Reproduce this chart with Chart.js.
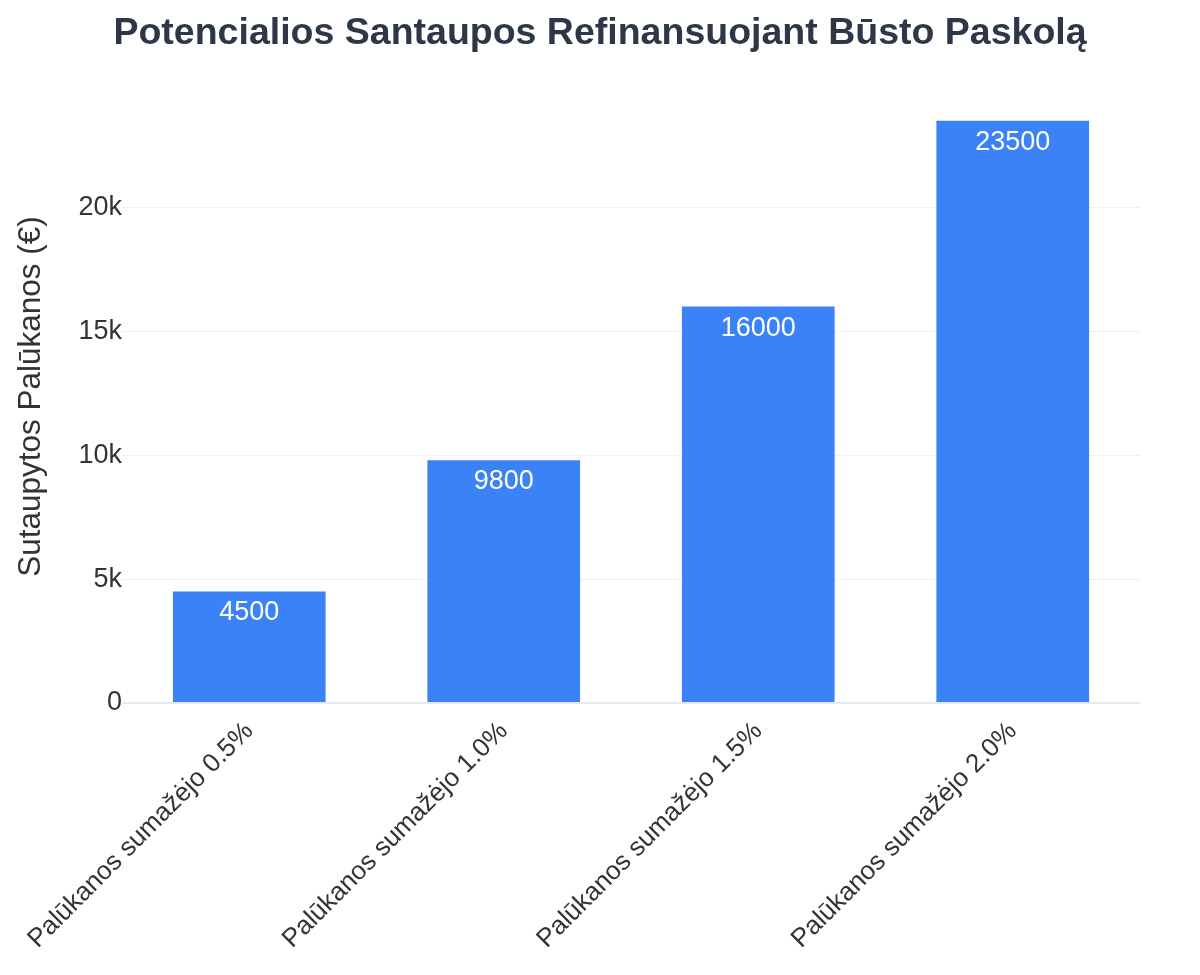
<!DOCTYPE html>
<html>
<head>
<meta charset="utf-8">
<script src="https://cdn.jsdelivr.net/npm/chart.js@4.4.1/dist/chart.umd.min.js"></script>
<style>
  html, body { margin: 0; padding: 0; background: #ffffff; }
  #wrap { width: 1200px; height: 975px; }
</style>
</head>
<body>
<div id="wrap"><canvas id="c" width="1200" height="975"></canvas></div>
<script>
const categories = [
  "Palūkanos sumažėjo 0.5%",
  "Palūkanos sumažėjo 1.0%",
  "Palūkanos sumažėjo 1.5%",
  "Palūkanos sumažėjo 2.0%"
];
const savings = [4500, 9800, 16000, 23500];
const yTickValues = [0, 5000, 10000, 15000, 20000];
const yTickLabels = ["0", "5k", "10k", "15k", "20k"];
const chartTitle = "Potencialios Santaupos Refinansuojant Būsto Paskolą";
const yAxisTitle = "Sutaupytos Palūkanos (€)";

const FONT = "'Liberation Sans', Arial, Helvetica, sans-serif";

const barLabels = {
  id: 'barLabels',
  afterDatasetsDraw(chart) {
    const ctx = chart.ctx;
    const meta = chart.getDatasetMeta(0);
    ctx.save();
    ctx.fillStyle = '#ffffff';
    ctx.font = '27px ' + FONT;
    ctx.textAlign = 'center';
    ctx.textBaseline = 'alphabetic';
    meta.data.forEach((bar, i) => {
      ctx.fillText(String(savings[i]), bar.x, bar.y + 29);
    });
    ctx.restore();
  }
};

new Chart(document.getElementById('c'), {
  type: 'bar',
  data: {
    labels: categories,
    datasets: [{
      data: savings,
      backgroundColor: '#3b82f6',
      borderWidth: 0,
      barPercentage: 0.6,
      categoryPercentage: 1.0
    }]
  },
  options: {
    responsive: false,
    animation: false,
    devicePixelRatio: 1,
    layout: { padding: 0 },
    plugins: {
      legend: { display: false },
      tooltip: { enabled: false },
      title: {
        display: true,
        text: chartTitle,
        color: '#2d3748',
        font: { family: FONT, size: 37.5, weight: 'bold', lineHeight: 1.2 },
        padding: { top: 11, bottom: 34 }
      }
    },
    scales: {
      x: {
        grid: { display: false, drawTicks: false },
        border: { display: false },
        ticks: {
          color: '#333333',
          font: { family: FONT, size: 26 },
          maxRotation: 45,
          minRotation: 45,
          padding: 13,
          autoSkip: false
        },
        afterFit(scale) {
          scale.height = 272;
          scale.paddingLeft = 0;
          scale.paddingRight = 0;
        }
      },
      y: {
        min: 0,
        max: 24737,
        grid: {
          drawTicks: false,
          color(ctx) { return ctx.tick && ctx.tick.value === 0 ? '#e6e8f2' : '#eef0f4'; },
          lineWidth(ctx) { return ctx.tick && ctx.tick.value === 0 ? 2 : 1; }
        },
        border: { display: false },
        afterBuildTicks(scale) {
          scale.ticks = yTickValues.map(v => ({ value: v }));
        },
        ticks: {
          color: '#333333',
          font: { family: FONT, size: 27 },
          padding: 0,
          callback(value) {
            const i = yTickValues.indexOf(value);
            return i >= 0 ? yTickLabels[i] : '';
          }
        },
        title: {
          display: true,
          text: yAxisTitle,
          color: '#333333',
          font: { family: FONT, size: 31.5, lineHeight: 1.2 },
          padding: { top: 12, bottom: 0 }
        },
        afterFit(scale) {
          scale.width = 122;
          scale.paddingTop = 0;
          scale.paddingBottom = 0;
        }
      },
      yRight: {
        position: 'right',
        display: true,
        min: 0,
        max: 24737,
        grid: { display: false, drawTicks: false },
        border: { display: false },
        ticks: { display: false },
        afterFit(scale) { scale.width = 60; }
      }
    }
  },
  plugins: [barLabels]
});
</script>
</body>
</html>
